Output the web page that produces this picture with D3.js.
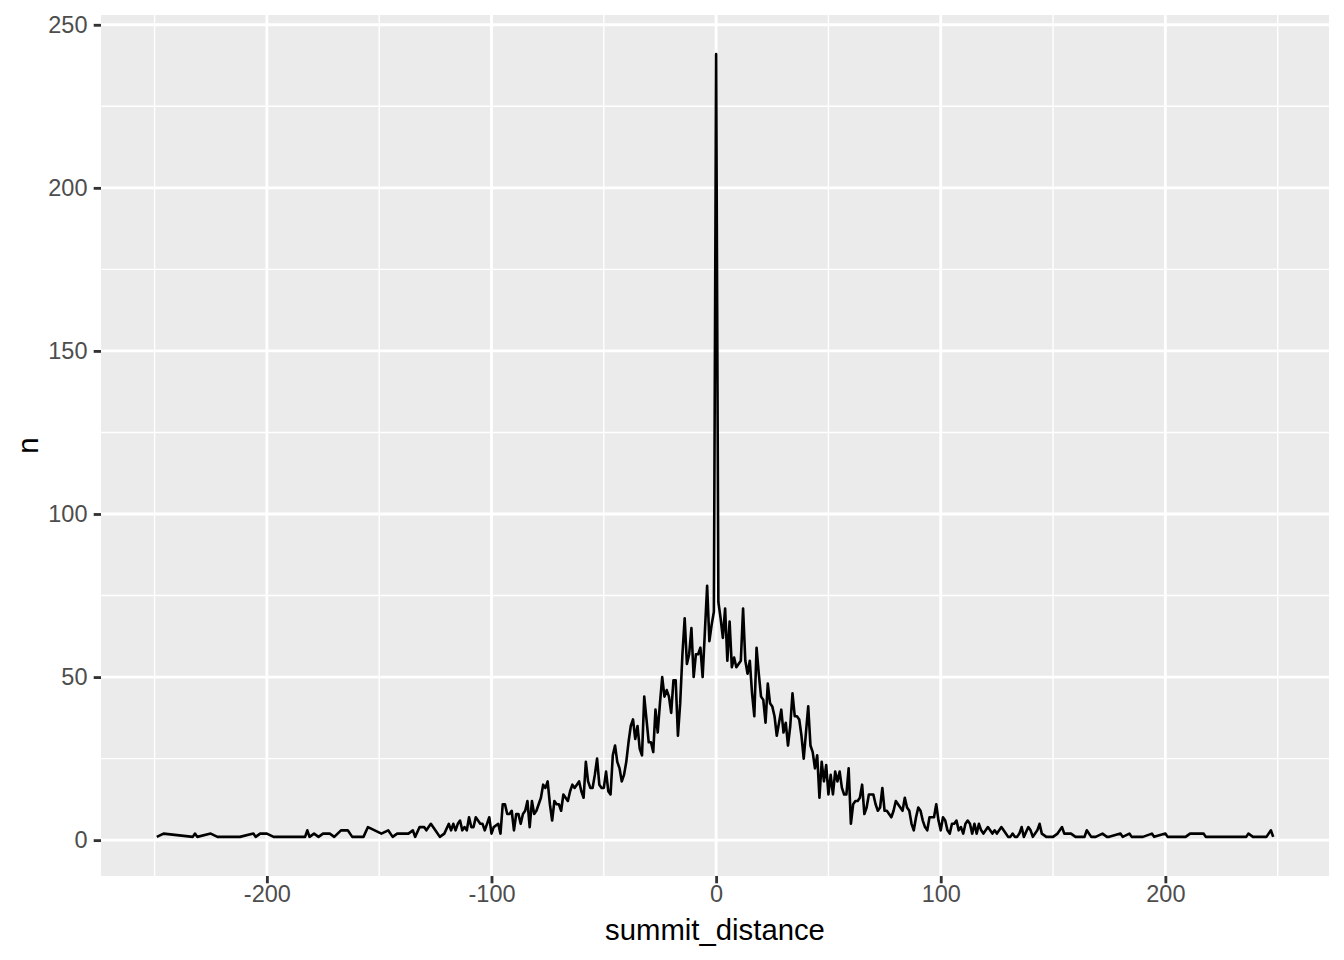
<!DOCTYPE html>
<html><head><meta charset="utf-8">
<script src="https://cdn.jsdelivr.net/npm/d3@7"></script>
<style>body{margin:0;background:#fff}svg{display:block}</style>
</head><body>
<svg id="chart" width="1344" height="960"></svg>
<script>
const summitDistance = [-249,-246,-233,-232,-231,-225,-222,-212,-206,-205,-203,-200,-197,-183,-182,-181,-179,-177,-175,-172,-170,-167,-164,-162,-157,-155,-152,-149,-146,-144,-142,-137,-135,-134,-132,-130,-129,-127,-125,-123,-121,-119,-118,-117,-116,-115,-114,-113,-112,-111,-110,-109,-108,-107,-106,-105,-104,-103,-102,-101,-100,-99,-97,-96,-95,-94,-93,-92,-91,-90,-89,-88,-87,-86,-85,-84,-83,-82,-81,-80,-79,-78,-77,-76,-75,-74,-73,-72,-71,-70,-69,-68,-67,-66,-65,-64,-63,-62,-61,-60,-59,-58,-57,-56,-55,-54,-53,-52,-51,-50,-49,-48,-47,-46,-45,-44,-43,-42,-41,-40,-39,-38,-37,-36,-35,-34,-33,-32,-31,-30,-29,-28,-27,-26,-25,-24,-23,-22,-21,-20,-19,-18,-17,-16,-15,-14,-13,-12,-11,-10,-9,-8,-7,-6,-5,-4,-3,-2,-1,0,1,2,3,4,5,6,7,8,9,10,11,12,13,14,15,16,17,18,19,20,21,22,23,24,25,26,27,28,29,30,31,32,33,34,35,36,37,38,39,40,41,42,43,44,45,46,47,48,49,50,51,52,53,54,55,56,57,58,59,60,61,62,63,64,65,66,67,68,69,70,71,72,73,74,75,76,77,78,79,80,81,82,83,84,85,86,87,88,89,90,91,92,93,94,95,96,97,98,99,100,101,102,103,104,105,106,107,108,109,110,111,112,113,114,115,116,117,118,119,120,121,122,123,124,125,126,127,128,129,130,131,132,133,134,135,136,137,139,140,141,142,143,144,145,147,150,152,154,155,158,160,164,165,167,169,172,174,175,180,181,184,185,190,194,195,200,201,205,209,211,217,218,236,237,239,245,247,248];
const counts = [1,2,1,2,1,2,1,1,2,1,2,2,1,1,3,1,2,1,2,2,1,3,3,1,1,4,3,2,3,1,2,2,3,1,4,4,3,5,3,1,2,5,3,5,3,5,6,3,4,3,7,4,4,7,6,5,5,3,5,7,2,4,5,2,11,11,8,8,9,3,8,8,5,8,9,12,4,12,8,9,11,13,17,16,18,11,6,12,11,11,9,14,13,12,15,17,16,17,18,15,13,24,18,16,16,20,25,17,16,16,21,15,14,26,29,24,22,18,20,24,30,35,37,31,35,28,26,44,37,30,30,27,40,33,42,50,44,46,44,39,49,49,32,42,57,68,54,57,65,50,57,57,59,50,64,78,61,66,70,241,73,68,62,71,55,67,53,56,53,54,55,71,55,51,55,45,38,59,51,44,43,36,48,42,41,38,32,36,40,33,36,29,35,45,38,38,37,32,25,33,41,29,27,22,26,13,24,18,23,14,20,14,21,18,21,16,14,14,22,5,11,12,12,13,17,8,10,14,14,14,11,9,10,16,9,9,8,7,9,12,11,10,9,13,10,9,5,3,7,10,9,6,4,3,7,7,7,11,6,3,7,6,3,2,5,5,6,3,4,2,5,6,5,2,5,2,5,3,2,3,4,3,2,3,2,3,4,3,2,1,1,2,1,1,2,4,1,4,3,1,2,3,5,2,1,1,2,4,2,2,1,1,3,1,1,2,1,1,2,1,2,1,1,2,1,2,1,1,1,2,2,1,1,2,1,1,3,1];
const xTicks = [-200,-100,0,100,200];
const xMinor = [-250,-150,-50,50,150,250];
const yTicks = [0,50,100,150,200,250];
const yMinor = [25,75,125,175,225];
const xTitle = "summit_distance";
const yTitle = "n";

const data = summitDistance.map((d,i)=>({x:d,y:counts[i]}));
const svg = d3.select("#chart");
const L=101, R=1329, T=15, B=876;

const xe = d3.extent(summitDistance), ye = d3.extent(counts);
const xp = (xe[1]-xe[0])*0.05, yp = (ye[1]-ye[0])*0.05;
const x = d3.scaleLinear().domain([xe[0]-xp, xe[1]+xp]).range([L,R]);
const y = d3.scaleLinear().domain([ye[0]-yp, ye[1]+yp]).range([B,T]);

svg.append("rect").attr("x",L).attr("y",T).attr("width",R-L).attr("height",B-T).attr("fill","#EBEBEB");
const g = svg.append("g");
g.selectAll(".xm").data(xMinor.filter(v=>x(v)>=L&&x(v)<=R)).join("line")
 .attr("x1",d=>x(d)).attr("x2",d=>x(d)).attr("y1",T).attr("y2",B).attr("stroke","#fff").attr("stroke-width",1.42);
g.selectAll(".ym").data(yMinor).join("line")
 .attr("y1",d=>y(d)).attr("y2",d=>y(d)).attr("x1",L).attr("x2",R).attr("stroke","#fff").attr("stroke-width",1.42);
g.selectAll(".xM").data(xTicks).join("line")
 .attr("x1",d=>x(d)).attr("x2",d=>x(d)).attr("y1",T).attr("y2",B).attr("stroke","#fff").attr("stroke-width",2.84);
g.selectAll(".yM").data(yTicks).join("line")
 .attr("y1",d=>y(d)).attr("y2",d=>y(d)).attr("x1",L).attr("x2",R).attr("stroke","#fff").attr("stroke-width",2.84);

svg.append("path").datum(data)
 .attr("d", d3.line().x(d=>x(d.x)).y(d=>y(d.y)))
 .attr("fill","none").attr("stroke","#000").attr("stroke-width",2.6).attr("stroke-linejoin","round");

const font = "'Liberation Sans', Arial, sans-serif";
const xAxis = d3.axisBottom(x).tickValues(xTicks).tickSize(7.3).tickPadding(2.2).tickFormat(d3.format("d"));
const yAxis = d3.axisLeft(y).tickValues(yTicks).tickSize(7.3).tickPadding(6.2).tickFormat(d3.format("d"));
const gx = svg.append("g").attr("transform",`translate(0,${B})`).call(xAxis);
const gy = svg.append("g").attr("transform",`translate(${L},0)`).call(yAxis);
[gx,gy].forEach(a=>{
  a.select(".domain").remove();
  a.selectAll(".tick line").attr("stroke","#333").attr("stroke-width",2.84);
  a.selectAll(".tick text").attr("fill","#4D4D4D").style("font-family",font).style("font-size","23.5px");
});
gx.selectAll(".tick text").text(d=>d<0?"-"+Math.abs(d):d);

svg.append("text").attr("x",(L+R)/2).attr("y",940).attr("text-anchor","middle")
 .style("font-family",font).style("font-size","29.3px").attr("fill","#000").text(xTitle);
svg.append("text").attr("transform",`translate(38,${(T+B)/2}) rotate(-90)`).attr("text-anchor","middle")
 .style("font-family",font).style("font-size","29.3px").attr("fill","#000").text(yTitle);
</script>
</body></html>
